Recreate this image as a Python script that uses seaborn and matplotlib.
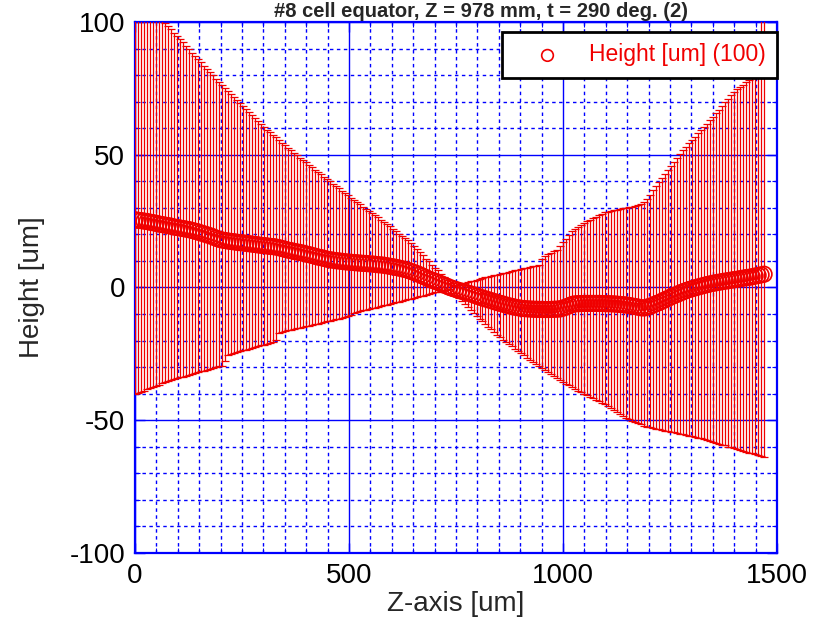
import matplotlib
matplotlib.use("Agg")
import matplotlib.pyplot as plt
from matplotlib.ticker import MultipleLocator
import numpy as np
import seaborn as sns

# ---- data ----
TITLE = "#8 cell equator, Z = 978 mm, t = 290 deg. (2)"
SERIES_LABEL = "Height [um] (100)"

z_um = np.arange(0, 1471, 7)  # measurement positions along Z

height_um = [
    25.5, 25.3, 25.2, 25.0, 24.85, 24.6, 24.4, 24.2, 23.9, 23.7,
    23.5, 23.3, 23.1, 22.8, 22.6, 22.4, 22.2, 22.0, 21.8, 21.5,
    21.2, 20.9, 20.55, 20.2, 19.85, 19.5, 19.1, 18.6, 18.2, 17.9,
    17.7, 17.5, 17.35, 17.2, 17.05, 16.9, 16.8, 16.65, 16.5, 16.35,
    16.2, 16.05, 15.9, 15.8, 15.65, 15.5, 15.4, 15.25, 15.0, 14.7,
    14.4, 14.1, 13.9, 13.6, 13.4, 13.2, 12.95, 12.65, 12.4, 12.1,
    11.8, 11.5, 11.25, 11.0, 10.7, 10.45, 10.3, 10.1, 10.0, 9.85,
    9.7, 9.6, 9.5, 9.4, 9.3, 9.2, 9.1, 9.05, 8.95, 8.85,
    8.75, 8.6, 8.5, 8.4, 8.2, 8.0, 7.8, 7.6, 7.35, 7.1,
    6.8, 6.5, 6.1, 5.7, 5.3, 4.8, 4.3, 3.8, 3.2, 2.8,
    2.4, 2.0, 1.5, 1.0, 0.55, 0.05, -0.35, -0.7, -1.1, -1.4,
    -1.75, -2.05, -2.4, -2.8, -3.2, -3.6, -3.95, -4.3, -4.65, -5.0,
    -5.35, -5.7, -6.0, -6.3, -6.65, -6.95, -7.2, -7.45, -7.65, -7.85,
    -7.95, -8.05, -8.1, -8.2, -8.2, -8.25, -8.3, -8.3, -8.3, -8.25,
    -8.2, -8.15, -8.05, -7.7, -7.3, -6.85, -6.35, -6.15, -6.1, -6.05,
    -6.0, -6.0, -6.0, -6.0, -6.0, -6.0, -6.05, -6.1, -6.1, -6.15,
    -6.2, -6.3, -6.4, -6.5, -6.6, -6.8, -7.0, -7.2, -7.4, -7.65,
    -7.7, -7.4, -7.05, -6.6, -6.1, -5.65, -5.1, -4.6, -4.05, -3.5,
    -3.0, -2.55, -2.05, -1.6, -1.15, -0.75, -0.45, -0.1, 0.2, 0.5,
    0.8, 1.1, 1.35, 1.6, 1.8, 2.0, 2.2, 2.4, 2.55, 2.75,
    2.95, 3.1, 3.3, 3.5, 3.7, 3.85, 4.05, 4.3, 4.55, 4.75,
    5.0,
]

# top end of each error bar
bar_top_um = [
    113.0, 111.9, 110.8, 109.7, 108.6, 107.5, 106.0, 104.5, 103.0, 101.5,
    99.8, 98.4, 97.2, 96.0, 94.8, 93.5, 92.3, 91.0, 89.8, 88.5,
    87.3, 86.1, 84.8, 83.6, 82.4, 81.1, 79.9, 78.7, 77.4, 76.2,
    75.1, 74.0, 72.8, 71.7, 70.6, 69.4, 68.3, 67.2, 66.0, 64.9,
    63.8, 62.7, 61.6, 60.5, 59.5, 58.5, 57.5, 56.5, 55.5, 54.5,
    53.5, 52.6, 51.7, 50.7, 49.8, 48.9, 48.0, 47.1, 46.2, 45.3,
    44.4, 43.5, 42.7, 41.8, 40.9, 40.0, 39.1, 38.2, 37.3, 36.4,
    35.5, 34.7, 33.8, 32.9, 32.1, 31.3, 30.5, 29.7, 28.8, 28.0,
    27.2, 26.4, 25.5, 24.7, 23.9, 23.0, 22.1, 21.2, 20.3, 19.5,
    18.6, 17.7, 16.8, 15.8, 14.6, 13.4, 12.2, 10.9, 9.8, 8.6,
    7.5, 6.4, 5.2, 4.1, 3.0, 1.8, 0.7, 0.85, 1.1, 1.4,
    1.7, 2.0, 2.3, 2.6, 2.9, 3.25, 3.55, 3.8, 4.1, 4.3,
    4.6, 4.85, 5.1, 5.35, 5.6, 5.85, 6.1, 6.4, 6.65, 6.9,
    7.2, 7.45, 7.7, 7.95, 8.2, 8.45, 10.7, 11.9, 12.5, 13.1,
    13.6, 14.3, 15.7, 17.0, 18.4, 19.7, 21.1, 22.1, 22.9, 23.6,
    24.4, 24.9, 25.5, 26.1, 26.6, 27.2, 27.75, 28.3, 28.6, 28.85,
    29.1, 29.3, 29.5, 29.75, 30.0, 30.2, 30.4, 30.65, 30.9, 31.4,
    32.25, 33.25, 35.0, 36.7, 38.2, 39.7, 41.2, 42.7, 44.3, 45.8,
    47.2, 48.8, 50.3, 51.8, 53.0, 54.3, 55.5, 56.8, 58.0, 59.2,
    60.5, 61.7, 63.0, 64.2, 65.6, 67.0, 68.4, 69.7, 71.1, 72.5,
    73.7, 74.6, 75.5, 76.4, 77.3, 78.2, 79.0, 80.6, 85.0, 104.0,
    108.0,
]

# bottom end of each error bar
bar_bottom_um = [
    -40.0, -39.6, -39.2, -38.8, -38.4, -38.0, -37.5, -37.1, -36.7, -36.1,
    -35.5, -35.1, -34.8, -34.5, -34.2, -33.9, -33.6, -33.2, -32.9, -32.6,
    -32.3, -32.0, -31.6, -31.3, -31.0, -30.7, -30.4, -30.1, -29.7, -29.4,
    -27.6, -25.3, -25.0, -24.6, -24.3, -24.0, -23.7, -23.4, -23.0, -22.7,
    -22.4, -22.1, -21.8, -21.5, -21.1, -20.8, -20.5, -19.9, -17.0, -16.7,
    -16.5, -16.2, -15.9, -15.7, -15.4, -15.2, -14.9, -14.6, -14.4, -14.1,
    -13.8, -13.6, -13.3, -13.1, -12.8, -12.5, -12.2, -12.0, -11.7, -11.5,
    -11.2, -10.8, -10.3, -9.75, -9.2, -8.9, -8.65, -8.4, -8.1, -7.9,
    -7.55, -7.3, -7.0, -6.7, -6.45, -6.2, -5.9, -5.6, -5.35, -5.05,
    -4.8, -4.5, -4.25, -3.95, -3.65, -3.35, -3.05, -2.75, -2.4, -2.1,
    -1.8, -1.55, -1.3, -1.05, -0.8, -0.7, -1.9, -3.0, -4.1, -5.25,
    -6.4, -7.5, -8.6, -9.75, -10.85, -11.85, -12.8, -13.8, -14.8, -15.8,
    -16.8, -17.75, -18.7, -19.6, -20.45, -21.3, -22.15, -23.0, -23.9, -24.7,
    -25.5, -26.4, -27.2, -28.0, -28.85, -29.7, -30.4, -31.2, -31.9, -32.7,
    -33.4, -34.2, -34.9, -35.5, -36.2, -36.8, -37.5, -38.1, -38.8, -39.4,
    -40.0, -40.6, -41.2, -41.8, -42.3, -42.9, -43.5, -44.05, -44.7, -45.4,
    -46.2, -46.9, -47.6, -48.4, -49.1, -49.6, -50.1, -50.6, -51.0, -51.5,
    -52.0, -52.4, -52.7, -52.9, -53.2, -53.4, -53.7, -53.9, -54.1, -54.4,
    -54.6, -54.9, -55.1, -55.35, -55.6, -55.8, -56.1, -56.3, -56.55, -56.85,
    -57.2, -57.5, -57.85, -58.2, -58.5, -58.85, -59.2, -59.5, -59.9, -60.2,
    -60.5, -60.9, -61.2, -61.5, -61.8, -62.2, -62.5, -62.8, -63.1, -63.5,
    -63.8,
]

x_ticks = [0, 500, 1000, 1500]
y_ticks = [-100, -50, 0, 50, 100]

# ---- style ----
sns.set_theme(style="white")
plt.rcParams["font.family"] = ["Liberation Sans", "DejaVu Sans"]
plt.rcParams["axes.unicode_minus"] = False

BLUE = "#0000ff"
RED = "#f00000"

h = np.asarray(height_um)
err = np.vstack([h - np.asarray(bar_bottom_um), np.asarray(bar_top_um) - h])

fig, ax = plt.subplots(figsize=(8.14, 6.39), dpi=100)
fig.subplots_adjust(left=0.1658, right=0.9545, bottom=0.1346, top=0.9656)

ax.errorbar(z_um, h, yerr=err, fmt="none", ecolor=RED, elinewidth=0.9,
            capsize=3, capthick=0.9, zorder=3)
sns.scatterplot(x=z_um, y=h, ax=ax, marker="o", s=125, color=RED,
                facecolor="none", edgecolor=RED, linewidth=1.2,
                label=SERIES_LABEL, zorder=4)

ax.set_xlim(0, 1500)
ax.set_ylim(-100, 100)
ax.set_xticks(x_ticks)
ax.set_yticks(y_ticks)
ax.xaxis.set_minor_locator(MultipleLocator(50))
ax.yaxis.set_minor_locator(MultipleLocator(10))

ax.set_axisbelow(True)
ax.grid(which="major", color=BLUE, linewidth=1.0, linestyle="-")
ax.grid(which="minor", color=BLUE, linewidth=1.0, linestyle=(0, (2.5, 2.5)))

for sp in ax.spines.values():
    sp.set_color(BLUE)
    sp.set_linewidth(1.6)

ax.tick_params(which="both", direction="in", top=True, right=True,
               bottom=True, left=True, color=BLUE)
ax.tick_params(which="major", length=7, width=1.0, labelsize=20, pad=7,
               labelcolor="black")
ax.tick_params(which="minor", length=3.5, width=0.8)

ax.set_xlabel("Z-axis [um]", fontsize=20)
ax.set_ylabel("Height [um]", fontsize=20)
ax.xaxis.set_label_coords(0.5, -0.072)
ax.yaxis.set_label_coords(-0.14, 0.5)

leg = ax.legend(loc="upper right", bbox_to_anchor=(1.0, 1 - 10 / 531),
                borderaxespad=0.0, fontsize=16.5, labelcolor=RED,
                fancybox=False, framealpha=1.0, edgecolor="black",
                borderpad=0.5, handlelength=3.0, handletextpad=0.3,
                markerscale=0.75)
leg.get_frame().set_linewidth(2.0)
leg.set_zorder(10)

# title sits right at the top edge, as in the reference
fig.text(0.591, 1 - 17 / 639, TITLE, ha="center", va="baseline",
         fontsize=14.5, fontweight="bold")

fig.savefig("out.png", dpi=100)
